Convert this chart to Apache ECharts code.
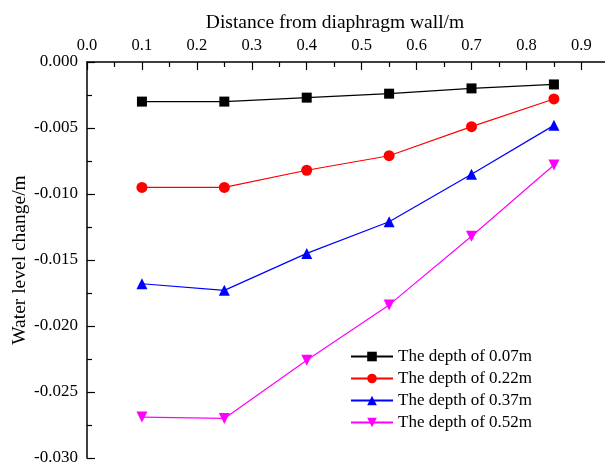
<!DOCTYPE html>
<html>
<head>
<meta charset="utf-8">
<script src="https://cdn.jsdelivr.net/npm/echarts@6/dist/echarts.min.js"></script>
<style>html,body{margin:0;padding:0;background:#fff;}#c{width:605px;height:465px;}</style>
</head>
<body>
<div id="c"></div>
<script>
const distances = [0.1, 0.25, 0.4, 0.55, 0.7, 0.85];
const depth007 = [-0.0030, -0.0030, -0.0027, -0.0024, -0.0020, -0.0017];
const depth022 = [-0.0095, -0.0095, -0.0082, -0.0071, -0.0049, -0.0028];
const depth037 = [-0.0168, -0.0173, -0.0145, -0.0121, -0.0085, -0.0048];
const depth052 = [-0.0269, -0.0270, -0.0226, -0.0184, -0.0132, -0.0078];
const seriesNames = ['The depth of 0.07m', 'The depth of 0.22m', 'The depth of 0.37m', 'The depth of 0.52m'];
const xTickLabels = [0, 0.1, 0.2, 0.3, 0.4, 0.5, 0.6, 0.7, 0.8, 0.9];
const xMinorTicks = [0.05, 0.15, 0.25, 0.35, 0.45, 0.55, 0.65, 0.75, 0.85];

const font = 'Liberation Serif';
const pairs = (ys) => distances.map((x, i) => [x, ys[i]]);
const mk = (name, ys, color, symbol, size) => ({
  name, type: 'line', data: pairs(ys), xAxisIndex: 0,
  symbol, symbolSize: size, showAllSymbol: true,
  lineStyle: { color, width: 1.2 }, itemStyle: { color },
  emphasis: { disabled: true }, animation: false
});

const chart = echarts.init(document.getElementById('c'), null, { renderer: 'canvas' });
chart.setOption({
  backgroundColor: '#fff',
  animation: false,
  title: {
    text: 'Distance from diaphragm wall/m', left: 330, top: 8, textAlign: 'center',
    textStyle: { fontFamily: font, fontSize: 19.5, fontWeight: 'normal', color: '#000' }
  },
  grid: { left: 87, top: 62, right: 0, bottom: 7, containLabel: false, outerBoundsMode: 'none' },
  legend: {
    orient: 'vertical', left: 345, top: 343, itemWidth: 42, itemHeight: 12, itemGap: 5,
    textStyle: { fontFamily: font, fontSize: 17, color: '#000' },
    data: seriesNames
  },
  xAxis: [{
    type: 'value', position: 'top', min: 0, max: 0.943,
    axisLine: { show: true, lineStyle: { color: '#000', width: 1.5 } },
    axisTick: { show: true, inside: true, length: 8, customValues: xTickLabels, lineStyle: { color: '#000', width: 1.2 } },
    axisLabel: { customValues: xTickLabels, margin: 8, fontFamily: font, fontSize: 16.5, color: '#000',
      formatter: v => v.toFixed(1) },
    splitLine: { show: false }
  }, {
    type: 'value', position: 'top', min: 0, max: 0.943,
    axisLine: { show: false },
    axisTick: { show: true, inside: true, length: 5, customValues: xMinorTicks, lineStyle: { color: '#000', width: 1.2 } },
    axisLabel: { show: false },
    splitLine: { show: false }
  }],
  yAxis: {
    type: 'value', min: -0.03, max: 0, interval: 0.005,
    name: 'Water level change/m', nameLocation: 'middle', nameGap: 57, nameRotate: 90, nameMoveOverlap: false,
    nameTextStyle: { fontFamily: font, fontSize: 19.5, color: '#000' },
    axisLine: { show: true, lineStyle: { color: '#000', width: 1.5 } },
    axisTick: { show: true, inside: true, length: 8, lineStyle: { color: '#000', width: 1.2 } },
    minorTick: { show: true, splitNumber: 2, length: 5, lineStyle: { color: '#000', width: 1.2 } },
    axisLabel: { margin: 9, fontFamily: font, fontSize: 17, color: '#000', formatter: v => v.toFixed(3) },
    splitLine: { show: false }
  },
  series: [
    mk(seriesNames[0], depth007, '#000000', 'rect', 10),
    mk(seriesNames[1], depth022, '#ff0000', 'circle', 11),
    mk(seriesNames[2], depth037, '#0000ff', 'triangle', 11),
    mk(seriesNames[3], depth052, '#ff00ff', 'path://M0,0 L10,0 L5,9 Z', 11)
  ]
});
</script>
</body>
</html>
